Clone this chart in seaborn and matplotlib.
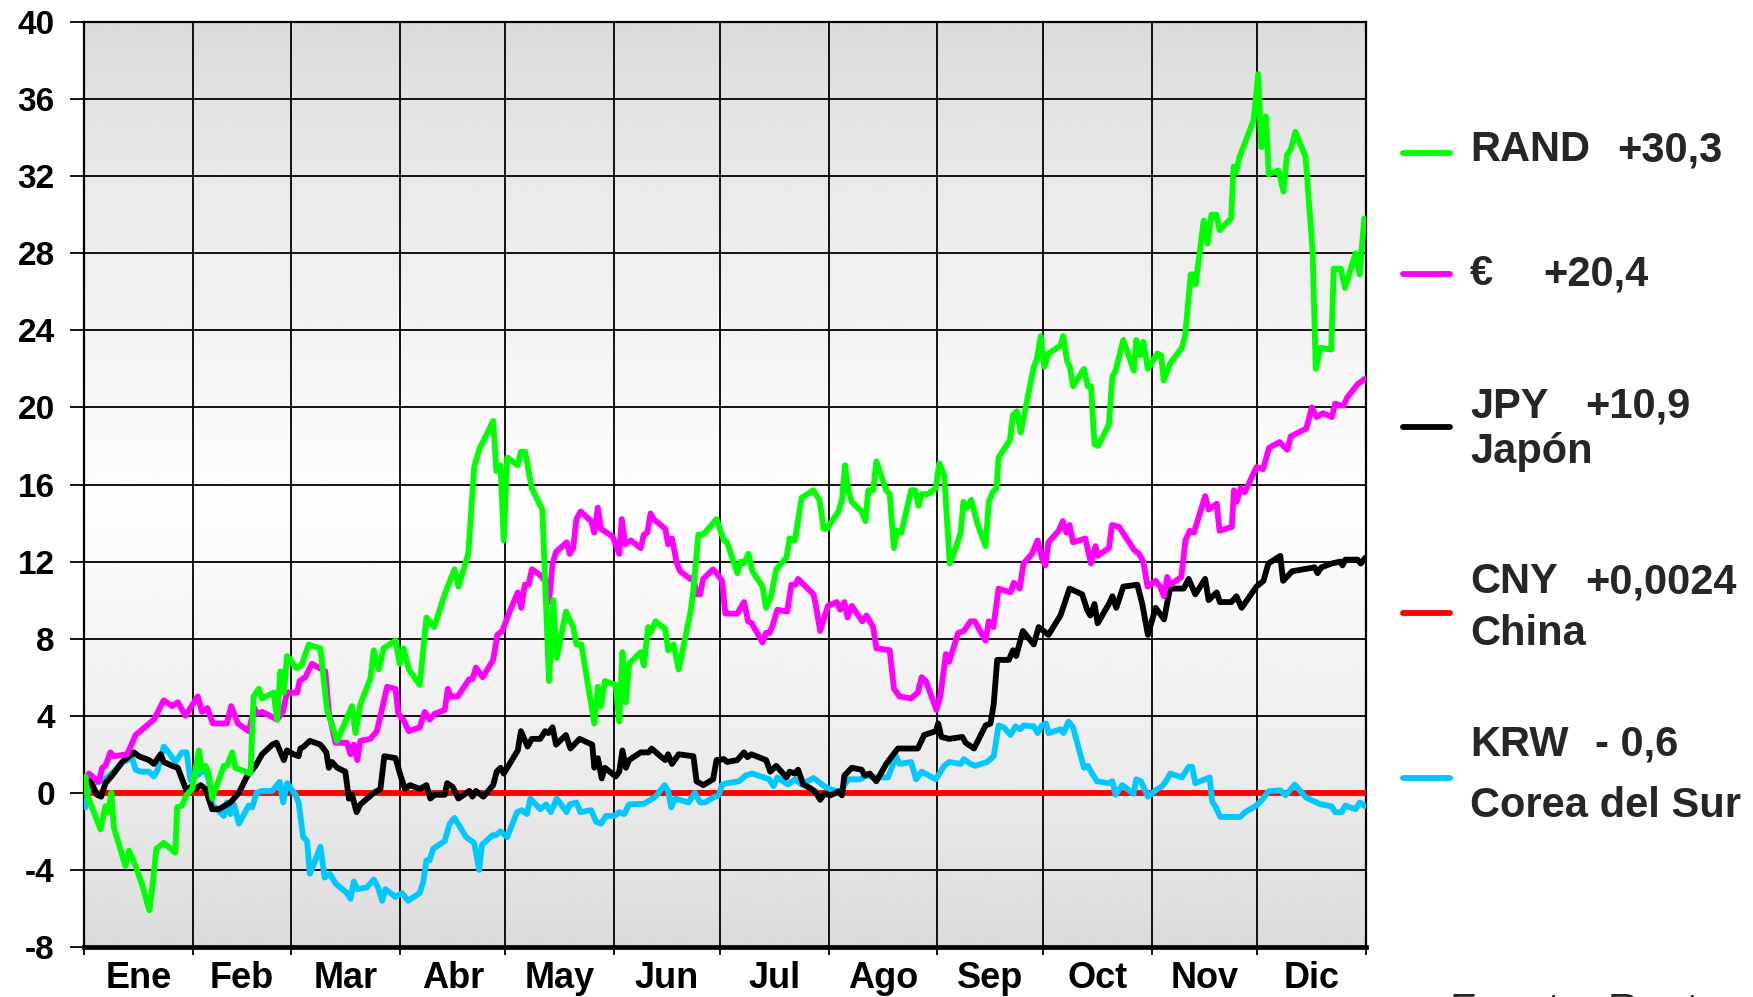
import numpy as np
import pandas as pd
import matplotlib
matplotlib.use("Agg")
import matplotlib.pyplot as plt
from matplotlib.lines import Line2D
import seaborn as sns

# ---------------- data (day of year, % change) ----------------
months = ["Ene", "Feb", "Mar", "Abr", "May", "Jun", "Jul", "Ago", "Sep", "Oct", "Nov", "Dic"]
month_starts = [0, 31, 59, 90, 120, 151, 181, 212, 243, 273, 304, 334, 365]
yticks = [-8, -4, 0, 4, 8, 12, 16, 20, 24, 28, 32, 36, 40]

rand_day = [0.4, 0.9, 4.7, 6.1, 6.9, 7.8, 8.5, 11.8, 12.8, 14.7, 16.6, 18.6, 19.4, 20.6, 22.7, 26.0, 26.5, 27.9,
            29.2, 30.8, 32.7, 33.6, 34.6, 35.5, 36.5, 39.8, 40.7, 42.2, 43.1, 46.0, 47.4, 48.3, 49.8, 50.7, 54.0,
            55.0, 55.9, 56.9, 57.8, 58.8, 60.2, 61.1, 62.1, 64.0, 65.4, 67.3, 69.2, 72.1, 74.9, 76.3, 77.3, 78.7,
            81.5, 82.5, 83.9, 85.3, 88.7, 89.9, 91.0, 92.5, 95.6, 97.5, 99.7, 102.7, 105.5, 106.6, 109.4, 111.1,
            112.5, 116.5, 117.4, 118.6, 119.5, 120.5, 123.5, 124.4, 125.6, 127.5, 130.5, 132.4, 133.6, 134.6,
            137.2, 139.3, 140.2, 141.6, 145.3, 146.3, 147.2, 148.3, 151.4, 152.4, 153.3, 154.3, 155.2, 158.5,
            159.4, 160.6, 161.3, 162.7, 165.5, 166.3, 167.9, 169.3, 172.6, 173.5, 174.9, 176.3, 180.1, 182.2,
            183.1, 186.0, 187.0, 187.9, 189.2, 190.3, 193.2, 194.2, 195.6, 197.1, 200.0, 200.9, 202.4, 204.3,
            207.6, 209.4, 210.6, 211.5, 214.8, 215.8, 216.7, 217.6, 218.6, 221.4, 222.5, 223.3, 224.7, 225.6,
            228.4, 229.4, 230.6, 231.5, 232.7, 235.5, 236.6, 237.6, 238.5, 240.2, 242.5, 243.5, 244.9, 246.5,
            248.2, 249.6, 250.4, 251.5, 252.6, 254.3, 256.7, 257.6, 258.7, 259.8, 260.4, 263.6, 264.5, 265.6,
            266.7, 270.4, 271.3, 272.4, 273.4, 274.6, 278.0, 278.8, 279.9, 280.7, 281.6, 284.7, 285.8, 286.7,
            287.7, 288.7, 291.8, 292.8, 293.7, 295.9, 298.9, 299.6, 300.6, 301.6, 302.9, 305.6, 306.7, 307.4,
            309.3, 312.6, 313.5, 315.1, 315.8, 316.5, 318.8, 319.9, 321.0, 322.4, 323.3, 326.6, 327.3, 328.0,
            329.0, 330.9, 333.0, 334.3, 335.2, 336.5, 337.3, 340.1, 341.5, 342.5, 343.6, 344.9, 347.8, 349.8,
            350.7, 352.0, 355.1, 355.8, 357.8, 359.0, 362.0, 363.2, 364.5]
rand_val = [0.85, -0.1, -1.9, -0.7, -1.0, 0.0, -1.8, -3.8, -3.0, -3.8, -4.8, -6.1, -5.0, -2.9, -2.6, -3.1, -0.75,
            -0.66, -0.1, 0.2, 2.2, 1.2, 1.4, 1.0, -0.3, 1.4, 1.4, 2.1, 1.3, 1.1, 1.0, 5.0, 5.4, 4.9, 5.2, 3.8, 6.3,
            5.2, 7.1, 6.9, 6.5, 6.5, 6.7, 7.7, 7.6, 7.5, 4.3, 2.7, 3.9, 4.5, 3.1, 4.6, 5.9, 7.4, 6.4, 7.5, 7.9, 6.7,
            7.5, 6.4, 5.6, 9.1, 8.6, 10.3, 11.6, 10.7, 12.4, 16.9, 17.8, 19.3, 16.7, 17.0, 13.1, 17.4, 17.0, 17.7,
            17.7, 15.8, 14.7, 5.8, 10.0, 7.0, 9.4, 8.6, 7.7, 7.7, 3.6, 5.5, 4.5, 5.8, 5.6, 3.7, 7.3, 4.7, 6.7, 7.3,
            6.6, 8.6, 8.3, 8.9, 8.5, 7.4, 7.7, 6.4, 9.3, 10.5, 13.4, 13.4, 14.2, 13.1, 13.0, 11.4, 12.0, 11.9,
            12.4, 11.5, 10.7, 9.6, 10.2, 11.6, 12.2, 13.2, 13.1, 15.3, 15.7, 15.2, 13.7, 13.7, 14.6, 15.2, 17.0,
            15.7, 15.1, 14.6, 14.1, 15.7, 15.7, 17.2, 15.7, 15.5, 12.7, 13.6, 13.5, 15.7, 15.7, 14.9, 15.5, 15.5,
            15.8, 17.1, 16.5, 11.9, 12.7, 13.5, 15.1, 14.8, 15.2, 14.0, 12.8, 15.1, 15.6, 15.8, 17.4, 18.3, 19.6,
            19.8, 18.7, 22.1, 22.5, 23.7, 22.1, 22.8, 23.2, 23.7, 22.4, 22.1, 21.1, 22.0, 21.1, 21.1, 18.1, 18.0,
            19.1, 21.6, 21.9, 23.5, 21.9, 23.5, 22.7, 23.4, 22.0, 22.8, 22.7, 21.4, 22.3, 23.1, 23.7, 26.9, 26.9,
            26.4, 29.7, 28.5, 30.0, 30.0, 29.2, 29.8, 32.5, 32.2, 33.0, 33.9, 34.9, 37.3, 33.5, 35.1, 32.1, 32.3,
            31.2, 33.1, 33.4, 34.3, 33.0, 28.1, 22.0, 23.1, 23.0, 27.2, 27.2, 26.2, 28.0, 26.9, 29.8]

eur_day = [0.4, 1.4, 4.2, 5.2, 6.1, 7.5, 8.5, 12.3, 14.7, 19.9, 22.7, 25.1, 26.7, 28.9, 32.4, 33.6, 35.1, 36.7,
           40.7, 41.9, 43.8, 46.9, 48.5, 49.3, 50.7, 52.9, 55.0, 56.6, 57.8, 60.7, 61.4, 63.0, 64.9, 68.7, 69.7,
           71.6, 74.9, 75.9, 76.8, 77.8, 78.7, 81.5, 83.4, 86.3, 88.7, 89.5, 90.9, 92.5, 95.6, 97.0, 98.4, 99.8,
           102.7, 103.6, 104.4, 106.4, 109.7, 110.6, 111.6, 113.5, 116.5, 117.7, 119.1, 121.4, 123.5, 124.5, 125.5,
           126.6, 127.5, 129.9, 131.3, 132.4, 133.4, 134.4, 137.4, 138.3, 139.3, 140.2, 141.4, 144.4, 145.3, 146.3,
           147.2, 150.5, 152.4, 153.1, 154.1, 155.7, 158.5, 159.4, 160.4, 161.3, 162.2, 165.5, 166.3, 167.4, 168.8,
           169.7, 172.6, 173.5, 174.4, 175.4, 176.3, 179.1, 180.1, 181.7, 182.6, 186.0, 187.9, 189.1, 190.1, 193.2,
           194.2, 195.2, 196.1, 197.4, 200.2, 201.4, 202.6, 203.3, 207.7, 208.4, 209.6, 211.8, 214.3, 215.3, 216.5,
           217.4, 218.6, 221.6, 222.8, 224.7, 225.6, 229.4, 230.6, 232.2, 235.5, 237.4, 238.5, 239.7, 242.7, 243.8,
           245.4, 246.3, 248.9, 250.5, 252.4, 253.6, 256.7, 257.6, 258.9, 260.4, 263.8, 264.7, 266.4, 267.5, 269.9,
           271.5, 272.7, 273.7, 274.6, 277.5, 278.7, 279.7, 280.6, 281.6, 285.1, 286.7, 288.0, 288.6, 291.8, 292.7,
           294.7, 299.0, 300.4, 301.6, 302.8, 305.1, 306.4, 307.5, 308.4, 309.3, 312.4, 313.6, 314.8, 316.0, 319.2,
           320.2, 322.5, 323.3, 326.8, 327.4, 328.2, 329.3, 330.5, 333.8, 335.7, 337.4, 340.4, 342.6, 343.6, 348.0,
           349.6, 350.9, 352.8, 355.3, 356.2, 357.7, 358.7, 359.6, 362.6, 364.8]
eur_val = [0.66, 1.0, 0.57, 1.3, 1.4, 2.1, 1.9, 2.0, 3.0, 3.8, 4.8, 4.5, 4.7, 4.0, 5.0, 4.2, 4.4, 3.6, 3.6, 4.5,
           3.6, 3.2, 4.4, 4.1, 4.2, 4.0, 3.8, 4.2, 5.2, 5.2, 5.8, 6.0, 6.7, 6.3, 4.2, 2.6, 2.6, 2.0, 2.5, 1.7, 2.7,
           2.8, 3.2, 5.5, 5.4, 4.1, 3.8, 3.2, 3.4, 4.2, 3.8, 4.1, 4.3, 5.4, 5.0, 5.0, 5.9, 5.9, 6.5, 6.0, 6.9, 8.2,
           8.4, 9.5, 10.4, 9.6, 10.8, 10.8, 11.6, 11.3, 11.0, 9.9, 11.9, 12.5, 13.0, 12.4, 12.7, 14.2, 14.6, 14.1,
           13.5, 14.8, 13.7, 13.3, 12.4, 14.2, 12.9, 13.1, 12.7, 13.4, 13.5, 14.5, 14.2, 13.7, 12.9, 13.2, 11.9,
           11.5, 11.1, 11.2, 10.3, 10.3, 11.1, 11.6, 11.4, 11.0, 9.3, 9.3, 9.9, 8.9, 8.8, 7.8, 8.3, 8.3, 8.7, 9.5,
           9.4, 10.8, 10.8, 11.1, 10.3, 9.7, 8.4, 9.7, 9.9, 9.5, 9.9, 9.1, 9.7, 8.9, 9.2, 8.6, 7.5, 7.4, 5.4, 5.0,
           4.9, 5.2, 6.0, 5.8, 4.3, 5.0, 7.2, 6.8, 8.3, 8.4, 8.9, 8.9, 7.9, 8.9, 8.6, 10.6, 10.4, 10.9, 10.6, 11.9,
           12.4, 13.1, 12.2, 11.8, 13.0, 13.6, 14.1, 13.5, 13.9, 13.0, 13.2, 11.9, 12.8, 12.3, 12.7, 13.9, 13.8,
           12.6, 12.4, 12.0, 10.7, 11.0, 10.7, 10.2, 11.2, 10.8, 11.2, 13.1, 13.6, 13.5, 15.4, 14.7, 15.0, 13.6,
           13.8, 15.7, 15.1, 15.8, 15.6, 16.9, 16.8, 17.9, 18.2, 17.8, 18.5, 18.9, 20.0, 19.5, 19.7, 19.5, 20.2,
           20.1, 20.1, 20.5, 21.2, 21.5]

jpy_day = [0.4, 1.7, 3.7, 4.9, 6.1, 8.0, 10.9, 14.2, 15.6, 18.5, 19.9, 21.8, 22.7, 25.1, 26.7, 29.2, 30.3, 31.7,
           33.2, 34.6, 36.5, 38.4, 41.7, 44.1, 46.4, 48.8, 50.7, 53.6, 54.8, 56.9, 57.8, 59.7, 61.1, 61.6, 62.6,
           64.3, 67.3, 69.0, 69.7, 70.6, 72.1, 74.4, 75.4, 76.3, 77.6, 78.7, 82.5, 84.4, 85.5, 88.7, 90.1, 91.4,
           92.8, 95.6, 97.5, 98.6, 99.8, 102.7, 103.4, 105.0, 106.6, 109.7, 110.6, 111.6, 113.7, 116.5, 117.5,
           118.6, 119.5, 123.5, 124.4, 126.3, 127.5, 129.9, 131.3, 132.2, 133.4, 134.4, 137.2, 138.5, 141.1, 144.7,
           145.3, 146.3, 147.4, 148.3, 151.4, 152.4, 153.3, 154.3, 155.2, 158.5, 160.8, 161.6, 164.1, 165.5, 166.3,
           167.4, 169.3, 173.5, 174.4, 176.3, 179.1, 180.1, 182.2, 183.1, 186.0, 187.9, 188.9, 190.0, 194.2, 195.4,
           197.1, 200.0, 200.9, 202.4, 203.3, 204.8, 206.7, 208.2, 209.6, 210.8, 212.5, 214.8, 215.8, 216.5, 218.6,
           221.4, 222.3, 223.7, 225.6, 228.4, 231.7, 237.4, 239.2, 242.5, 243.2, 244.1, 246.3, 250.1, 251.0, 253.4,
           256.7, 258.1, 259.0, 260.0, 263.3, 264.5, 265.4, 267.3, 270.4, 271.8, 274.6, 278.0, 280.6, 284.2, 285.6,
           286.5, 287.7, 288.6, 291.8, 292.8, 293.9, 295.9, 299.9, 301.3, 302.9, 305.1, 307.5, 309.2, 313.1, 314.5,
           316.4, 319.2, 320.2, 322.5, 323.4, 326.7, 328.1, 329.6, 333.8, 335.8, 337.2, 340.6, 341.4, 344.0, 350.4,
           351.2, 352.3, 355.2, 357.7, 358.3, 359.1, 362.6, 363.5, 364.8]
jpy_val = [0.5, 0.66, -0.1, -0.2, 0.5, 0.9, 1.6, 2.1, 1.9, 1.7, 1.5, 2.0, 1.6, 1.4, 1.3, 0.1, 0.3, 0.2, 0.4, 0.2,
           -0.85, -0.85, -0.5, 0.0, 0.85, 1.4, 2.0, 2.5, 2.6, 1.7, 2.2, 2.0, 1.9, 2.3, 2.4, 2.7, 2.5, 2.1, 1.3, 1.6,
           1.3, 1.1, -0.3, -0.1, -1.0, -0.6, 0.0, 0.2, 1.9, 1.8, 0.9, 0.2, 0.4, 0.2, 0.4, -0.3, -0.1, -0.1, 0.5,
           0.3, -0.3, 0.1, -0.2, 0.1, -0.2, 0.4, 1.1, 1.3, 1.0, 2.2, 3.2, 2.4, 2.8, 2.8, 3.2, 3.1, 3.4, 2.5, 3.0,
           2.3, 2.8, 2.5, 1.3, 1.8, 0.75, 1.3, 0.85, 1.1, 2.2, 1.3, 1.7, 2.1, 2.1, 2.3, 1.9, 1.7, 2.0, 1.5, 2.0,
           1.9, 0.6, 0.4, 0.7, 1.7, 1.75, 1.6, 1.7, 2.1, 1.85, 2.0, 1.7, 1.1, 1.4, 0.8, 1.1, 1.0, 1.2, 0.43, 0.25,
           0.06, -0.36, -0.04, -0.13, 0.06, -0.13, 0.9, 1.3, 1.2, 0.9, 1.0, 0.6, 1.5, 2.3, 2.3, 3.0, 3.2, 3.6, 2.9,
           2.8, 2.9, 2.6, 2.3, 3.5, 3.6, 4.6, 6.9, 6.9, 7.4, 7.1, 8.4, 7.7, 8.6, 8.2, 9.2, 10.6, 10.3, 9.5, 9.2,
           9.8, 8.8, 9.8, 10.2, 9.6, 10.7, 10.8, 9.8, 8.2, 9.6, 9.0, 10.6, 10.6, 11.1, 10.3, 11.1, 10.0, 10.4, 9.9,
           9.9, 10.2, 9.6, 10.7, 11.0, 11.9, 12.3, 11.0, 11.5, 11.7, 11.4, 11.7, 11.9, 12.0, 11.8, 12.1, 12.1,
           11.9, 12.2]

cny_day = [0, 365]
cny_val = [0.0, 0.0]

krw_day = [0.4, 1.4, 2.8, 5.6, 8.5, 10.9, 13.7, 14.7, 16.1, 18.5, 19.9, 21.0, 22.7, 24.1, 26.0, 27.9, 29.2, 30.3,
           31.7, 34.6, 35.5, 36.5, 37.9, 39.8, 40.7, 41.7, 42.7, 44.1, 46.9, 47.9, 49.1, 50.7, 53.6, 55.7, 56.7,
           57.8, 60.2, 61.1, 62.4, 63.5, 64.3, 65.4, 67.3, 68.5, 70.0, 71.6, 74.9, 75.9, 76.8, 77.8, 80.6, 82.5,
           83.7, 84.9, 85.8, 88.7, 90.5, 92.3, 95.6, 96.6, 97.5, 98.4, 99.4, 102.7, 104.1, 105.5, 108.8, 111.1,
           112.5, 113.3, 116.3, 117.2, 118.6, 120.5, 123.3, 124.7, 126.1, 127.1, 129.9, 131.6, 132.9, 134.6, 137.4,
           138.3, 140.2, 141.3, 144.4, 145.8, 147.2, 148.6, 151.0, 152.4, 153.8, 155.2, 159.4, 162.7, 165.3, 166.3,
           167.2, 168.3, 172.1, 173.9, 175.4, 176.8, 179.6, 180.7, 181.7, 183.1, 186.5, 188.4, 190.3, 195.1, 196.3,
           197.4, 200.5, 202.4, 204.3, 207.7, 210.8, 212.9, 215.3, 217.6, 220.9, 222.8, 225.1, 228.9, 231.2, 232.2,
           235.5, 236.9, 238.5, 242.5, 244.9, 246.3, 249.6, 250.5, 252.4, 253.8, 257.1, 259.0, 260.4, 261.9, 263.8,
           265.2, 266.6, 267.5, 270.4, 271.5, 272.7, 273.9, 274.6, 278.0, 278.9, 280.3, 281.6, 284.7, 285.8, 286.7,
           288.4, 291.8, 292.8, 293.7, 295.6, 298.8, 299.6, 300.9, 302.9, 305.1, 307.0, 308.0, 309.3, 312.6, 314.5,
           315.5, 316.4, 320.5, 321.2, 322.1, 323.5, 329.2, 330.6, 333.8, 335.7, 337.2, 340.6, 342.1, 344.7, 347.9,
           351.8, 355.2, 356.2, 358.1, 359.1, 362.0, 363.3, 364.8]
krw_val = [-0.75, 0.3, 0.5, 0.66, 1.1, 1.6, 1.8, 1.2, 1.1, 1.1, 0.85, 1.2, 2.4, 2.1, 1.6, 2.1, 2.1, 0.66, 0.85, 1.2,
           0.66, -0.6, -0.85, -1.2, -0.5, -1.1, -0.6, -1.6, -0.66, -0.75, 0.0, 0.1, 0.1, 0.57, -0.5, 0.5, -0.1,
           -0.5, -2.3, -2.5, -4.2, -3.7, -2.8, -4.4, -4.2, -4.7, -5.2, -5.5, -4.6, -5.0, -4.9, -4.5, -4.9, -5.6,
           -5.0, -5.4, -5.2, -5.6, -5.2, -4.6, -3.5, -3.5, -2.9, -2.5, -1.6, -1.3, -2.3, -2.6, -4.0, -2.7, -2.2,
           -2.2, -2.0, -2.3, -1.0, -0.9, -1.1, -0.3, -0.85, -0.6, -1.0, -0.3, -1.0, -0.6, -0.5, -1.0, -0.9, -1.5,
           -1.6, -1.2, -1.2, -1.0, -1.1, -0.6, -0.57, -0.2, 0.4, 0.1, -0.75, -0.3, -0.5, 0.0, -0.5, -0.5, -0.2,
           -0.13, 0.43, 0.5, 0.6, 0.9, 1.0, 0.7, 0.34, 0.8, 0.43, 0.7, 0.43, 0.77, 0.34, 0.15, 0.06, 0.7, 0.7, 0.9,
           0.8, 0.8, 1.9, 1.5, 1.6, 0.7, 1.1, 0.7, 1.4, 1.6, 1.5, 1.75, 1.5, 1.4, 1.6, 1.9, 3.5, 3.4, 3.0, 3.45,
           3.3, 3.5, 3.45, 3.1, 3.5, 3.6, 3.1, 3.3, 3.1, 3.7, 3.4, 1.3, 1.4, 1.1, 0.6, 0.5, 0.6, -0.1, 0.4, -0.05,
           0.7, 0.6, -0.2, 0.13, 0.35, 0.6, 1.0, 0.8, 1.35, 1.35, 0.5, 0.8, -0.45, -0.7, -1.25, -1.25, -1.0, -0.66,
           -0.3, 0.08, 0.13, -0.13, 0.43, -0.24, -0.58, -0.7, -1.0, -1.0, -0.66, -0.85, -0.5, -0.7]

legend_names = ["RAND", "€", "JPY", "CNY", "KRW"]
legend_values = ["+30,3", "+20,4", "+10,9", "+0,0024", "- 0,6"]
legend_sub = ["", "", "Japón", "China", "Corea del Sur"]
source_text = "Fuente: Reuters"

# ---------------- long table ----------------
series = {
    "CNY": (cny_day, cny_val),
    "KRW": (krw_day, krw_val),
    "JPY": (jpy_day, jpy_val),
    "EUR": (eur_day, eur_val),
    "RAND": (rand_day, rand_val),
}
df = pd.concat([pd.DataFrame({"day": d, "value": v, "serie": k}) for k, (d, v) in series.items()],
               ignore_index=True)
palette = {"RAND": "#00ff00", "EUR": "#ff00ff", "JPY": "#000000", "CNY": "#ff0000", "KRW": "#00c8ff"}
hue_order = ["CNY", "KRW", "JPY", "EUR", "RAND"]

# ---------------- figure ----------------
sns.set_theme(style="white")
plt.rcParams["font.family"] = ["Liberation Sans", "DejaVu Sans"]

W, H = 1753, 997
fig = plt.figure(figsize=(W / 100, H / 100), dpi=100)
ax = fig.add_axes([84 / W, 1 - 947 / H, (1366 - 84) / W, (947 - 22) / H])

# background gradient (gray - white - gray)
t = np.linspace(0, 1, 400)
peak = 0.52
g = np.where(t < peak, 0.855 + (0.995 - 0.855) * (t / peak) ** 0.8,
             0.855 + (0.995 - 0.855) * ((1 - t) / (1 - peak)) ** 0.8)
ax.imshow(g[:, None], extent=[0, 1, 0, 1], transform=ax.transAxes, aspect="auto",
          cmap="gray", vmin=0, vmax=1, zorder=0, interpolation="bilinear")

sns.lineplot(data=df, x="day", y="value", hue="serie", hue_order=hue_order, palette=palette,
             estimator=None, sort=False, linewidth=4.2, legend=False, ax=ax, zorder=3)

ax.set_xlim(0, 365)
ax.set_ylim(-8, 40)
ax.set_xlabel("")
ax.set_ylabel("")

# grid
ax.set_xticks(month_starts)
ax.set_xticklabels([])
ax.set_xticks([(month_starts[i] + month_starts[i + 1]) / 2 for i in range(12)], minor=True)
ax.set_xticklabels(months, minor=True, fontsize=26, fontweight="bold")
ax.set_yticks(yticks)
ax.set_yticklabels([str(v) for v in yticks], fontsize=24, fontweight="bold")
ax.grid(True, which="major", color="black", linewidth=1.3)
ax.set_axisbelow(False)
for gl in ax.get_xgridlines() + ax.get_ygridlines():
    gl.set_zorder(1)

ax.tick_params(axis="x", which="major", direction="out", length=6, width=1.3, color="black", bottom=True)
ax.tick_params(axis="x", which="minor", length=0, pad=10, colors="black")
ax.tick_params(axis="y", which="major", direction="out", length=10, width=1.3, color="black", left=True,
               pad=11, labelcolor="black")

for side in ["left", "right", "top"]:
    ax.spines[side].set_color("black")
    ax.spines[side].set_linewidth(1.6)
ax.spines["bottom"].set_color("black")
ax.spines["bottom"].set_linewidth(3.4)

# ---------------- legend (manual) ----------------
legend_colors = ["#00ff00", "#ff00ff", "#000000", "#ff0000", "#00c8ff"]
line_y = [153, 274, 427, 613, 778]
main_y = [150, 274, 407, 582, 745]
sub_y = [None, None, 452, 634, 806]
value_x = [1617, 1543, 1585, 1585, 1595]
for i in range(5):
    fy = 1 - line_y[i] / H
    fig.add_artist(Line2D([1403 / W, 1450 / W], [fy, fy], color=legend_colors[i], linewidth=4.2,
                          transform=fig.transFigure))
    fig.text(1470 / W, 1 - main_y[i] / H, legend_names[i], fontsize=30, fontweight="bold",
             va="center", ha="left")
    fig.text(value_x[i] / W, 1 - main_y[i] / H, legend_values[i], fontsize=30, fontweight="bold",
             va="center", ha="left")
    if legend_sub[i]:
        fig.text(1470 / W, 1 - sub_y[i] / H, legend_sub[i], fontsize=30, fontweight="bold",
                 va="center", ha="left")

fig.text(1450 / W, 1 - 992 / H, source_text, fontsize=31, va="top", ha="left")

fig.savefig("out.png", dpi=100, facecolor="white")
